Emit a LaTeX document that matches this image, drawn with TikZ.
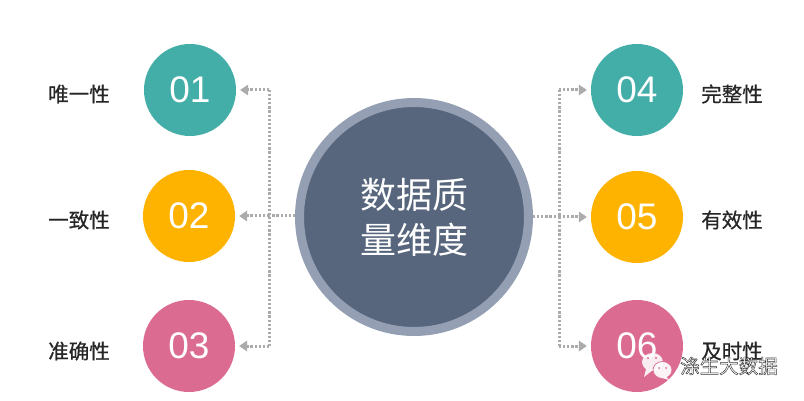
\documentclass[tikz,border=0pt]{standalone}
\usepackage{fontspec}
\setmainfont{Liberation Sans}
\newfontfamily\cjk{Noto Sans CJK SC}
\newfontfamily\cjkb[FakeBold=0.6]{Noto Sans CJK SC}
\usetikzlibrary{arrows.meta}
\definecolor{tealc}{HTML}{43ADA8}
\definecolor{amberc}{HTML}{FDB300}
\definecolor{rosec}{HTML}{DB6B90}
\definecolor{slatec}{HTML}{57667D}
\definecolor{ringc}{HTML}{949FB3}
\definecolor{dotc}{HTML}{ABABAB}
\tikzset{
  x=1pt,y=-1pt,
  numc/.style={circle,minimum size=92pt,inner sep=0pt,text=white,font=\fontsize{37}{37}\selectfont},
  lab/.style={font=\cjkb\fontsize{20.5}{20.5}\selectfont,text=black!85,inner sep=0pt},
  dotline/.style={draw=dotc,line width=3pt,dash pattern=on 2.2pt off 1.9pt},
  dotarrow/.style={dotline,shorten >=4pt,-{Triangle[length=8pt,width=11pt,color=dotc,fill=dotc,line width=0pt]}},
}
\begin{document}
\begin{tikzpicture}
\useasboundingbox (0,0) rectangle (804,401);
\fill[white] (0,0) rectangle (804,401);
% junction coordinates
\coordinate (jl) at (269,216);
\coordinate (jr) at (559,217);
\coordinate (tl) at (269,90);
\coordinate (bl) at (269,346);
\coordinate (tr) at (559,90);
\coordinate (br) at (559,346);
\node[numc,fill=tealc] (n1) at (190,90) {01};
\node[numc,fill=amberc] (n2) at (189,216) {02};
\node[numc,fill=rosec] (n3) at (189,346) {03};
\node[numc,fill=tealc] (n4) at (637,90) {04};
\node[numc,fill=amberc] (n5) at (637,217) {05};
\node[numc,fill=rosec] (n6) at (637,346) {06};
\node[circle,fill=slatec,draw=ringc,line width=9pt,minimum size=229pt,inner sep=0pt,align=center,text=white,font=\cjk\fontsize{36}{45}\selectfont] (c) at (414,217) {数据质\\量维度};
\draw[dotline] (c.west |- jl) -- (jl);
\draw[dotline] (c.east |- jr) -- (jr);
\draw[dotline] (tl) -- (bl);
\draw[dotline] (tr) -- (br);
\draw[dotarrow] (tl) -- (n1.east);
\draw[dotarrow] (jl) -- (n2.east);
\draw[dotarrow] (bl) -- (n3.east);
\draw[dotarrow] (tr) -- (n4.west);
\draw[dotarrow] (jr) -- (n5.west);
\draw[dotarrow] (br) -- (n6.west);
\node[lab] (l1) at (79,94) {唯一性};
\node[lab] (l2) at (79,220) {一致性};
\node[lab] (l3) at (79,351) {准确性};
\node[lab] (l4) at (732,94) {完整性};
\node[lab] (l5) at (732,220) {有效性};
\node[lab] (l6) at (732,351) {及时性};
% watermark
\fill[white,opacity=.88] (652.5,362) ellipse (10.5 and 9);
\fill[white,opacity=.88] (646,369) -- (644,377) -- (653,370) -- cycle;
\fill[rosec] (648,358) circle (1.2) (656,358) circle (1.2);
\fill[white,opacity=.92,draw=rosec,line width=.8pt] (662.5,370) ellipse (9.5 and 8.5);
\fill[white,opacity=.92] (666,376) -- (669,380) -- (662,378) -- cycle;
\fill[rosec] (659,368) circle (1) (666,368) circle (1);
\node[inner sep=0pt,font=\cjk\fontsize{19.5}{20}\selectfont,text=white] (wm) at (729,366) {\special{pdf:literal 2 Tr 0.45 w 0.2 G}涤生大数据\special{pdf:literal 0 Tr}};
\end{tikzpicture}
\end{document}
